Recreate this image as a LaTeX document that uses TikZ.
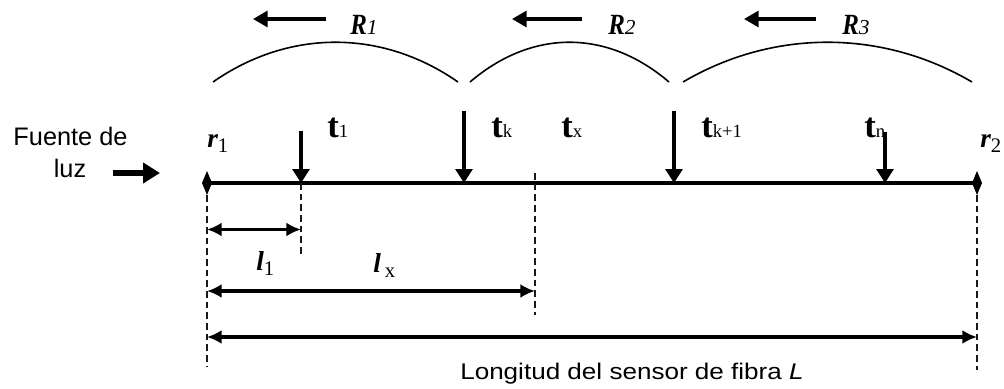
\documentclass[tikz,border=0pt]{standalone}
\usepackage{fontspec}
\setmainfont{Liberation Serif}
\newfontfamily\sansf{Liberation Sans}
\usepackage{graphicx}
\usetikzlibrary{arrows.meta}
\newcommand{\tlab}[1]{{\fontsize{26}{26}\selectfont\bfseries t}{\fontsize{14}{14}\selectfont #1}}
\newcommand{\rlab}[2]{{\fontsize{20.5}{20.5}\selectfont\bfseries\itshape #1}\raisebox{-3.75pt}{\fontsize{15.5}{15.5}\selectfont #2}}
\newcommand{\Rlab}[1]{\scalebox{0.85}[1]{\fontsize{22}{22}\selectfont\bfseries\itshape R}{\fontsize{16}{16}\selectfont\itshape #1}}
\begin{document}
\begin{tikzpicture}[x=0.75pt,y=-0.75pt,
  lbl/.style={inner sep=0pt, anchor=base west},
  mainln/.style={line width=2.5pt},
  endmark/.style={fill=black},
  downarr/.style={line width=2.3pt, -{Triangle[length=10.5pt,width=12.75pt]}},
  dimarr/.style={line width=2.3pt, {Latex[length=11pt,width=10.5pt]}-{Latex[length=11pt,width=10.5pt]}},
  dashln/.style={line width=2.1pt, dash pattern=on 5pt off 3pt, black!90},
  arcln/.style={line width=1.2pt},
  rarr/.style={line width=2.4pt, -{Triangle[length=11pt,width=12pt]}},
  srcarr/.style={line width=5.2pt, -{Triangle[length=12.75pt,width=15pt]}}]
\useasboundingbox (0,0) rectangle (1004,389);

% main fibre line
\coordinate (A) at (207,183);
\coordinate (B) at (977,183);
\draw[mainln] (A) -- (B);
\fill[endmark] (A) ++(-5,0) -- ++(5,-12) -- ++(5,12) -- ++(-5,12) -- cycle;
\fill[endmark] (B) ++(-5,0) -- ++(5,-12) -- ++(5,12) -- ++(-5,12) -- cycle;

% source
\node[inner sep=0pt, anchor=base] (fu) at (70.5,145) {\sansf\fontsize{19}{19}\selectfont Fuente de};
\node[inner sep=0pt, anchor=base] (luz) at (70,177) {\sansf\fontsize{19}{19}\selectfont luz};
\coordinate (s1) at (113,173);
\coordinate (s2) at (160,173);
\draw[srcarr] (s1) -- (s2);

% reflector labels
\node[lbl] (r1) at (207,147) {\rlab{r}{1}};
\node[lbl] (r2) at (980,147) {\rlab{r}{2}};

% grating arrows
\coordinate (g1t) at (301,131); \coordinate (g1b) at (301,183);
\coordinate (gkt) at (464,111); \coordinate (gkb) at (464,183);
\coordinate (gk1t) at (674,111); \coordinate (gk1b) at (674,183);
\coordinate (gnt) at (885,132); \coordinate (gnb) at (885,183);
\draw[downarr] (g1t) -- (g1b);
\draw[downarr] (gkt) -- (gkb);
\draw[downarr] (gk1t) -- (gk1b);
\draw[downarr] (gnt) -- (gnb);

\node[lbl] (t1) at (327,137) {\tlab{1}};
\node[lbl] (tk) at (491,137) {\tlab{k}};
\node[lbl] (tx) at (561,137) {\tlab{x}};
\node[lbl] (tk1) at (701,137) {\tlab{k+1}};
\node[lbl] (tn) at (864,137) {\tlab{n}};

% dashed guides
\coordinate (d0t) at (207,195); \coordinate (d0b) at (207,367);
\coordinate (d1b) at (301,255);
\coordinate (dxt) at (535,173); \coordinate (dxb) at (535,315);
\coordinate (d2t) at (977,195); \coordinate (d2b) at (977,370);
\draw[dashln] (d0t) -- (d0b);
\draw[dashln] (g1b) -- (d1b);
\draw[dashln] (dxt) -- (dxb);
\draw[dashln] (d2t) -- (d2b);

% dimension arrows
\coordinate (m1a) at (207,229.5); \coordinate (m1b) at (301,229.5);
\coordinate (mxa) at (207,291); \coordinate (mxb) at (535,291);
\coordinate (mLa) at (207,337); \coordinate (mLb) at (977,337);
\draw[dimarr] (m1a) -- (m1b);
\draw[dimarr] (mxa) -- (mxb);
\draw[dimarr] (mLa) -- (mLb);

\node[lbl] (l1) at (256,270) {\rlab{l}{1}};
\node[lbl] (lx) at (373,272) {\rlab{l}{\kern3pt x}};
\node[lbl] (Lt) at (460,379) {\scalebox{1.15}[1]{\sansf\fontsize{17}{17}\selectfont Longitud del sensor de fibra \textit{L}}};

% regions
\coordinate (a1) at (213,82); \coordinate (b1) at (458,82);
\coordinate (a2) at (470,82); \coordinate (b2) at (669,82);
\coordinate (a3) at (683,82); \coordinate (b3) at (972,82);
\draw[arcln] (a1) .. controls +(76,-53) and +(-76,-53) .. (b1);
\draw[arcln] (a2) .. controls +(62,-53) and +(-62,-53) .. (b2);
\draw[arcln] (a3) .. controls +(90,-53) and +(-90,-53) .. (b3);

\coordinate (q1a) at (326,19); \coordinate (q1b) at (253,19);
\coordinate (q2a) at (582,19); \coordinate (q2b) at (512,19);
\coordinate (q3a) at (816,19); \coordinate (q3b) at (744,19);
\draw[rarr] (q1a) -- (q1b);
\draw[rarr] (q2a) -- (q2b);
\draw[rarr] (q3a) -- (q3b);

\node[lbl] (R1) at (350,35) {\Rlab{1}};
\node[lbl] (R2) at (608,35) {\Rlab{2}};
\node[lbl] (R3) at (842,35) {\Rlab{3}};
\end{tikzpicture}
\end{document}
